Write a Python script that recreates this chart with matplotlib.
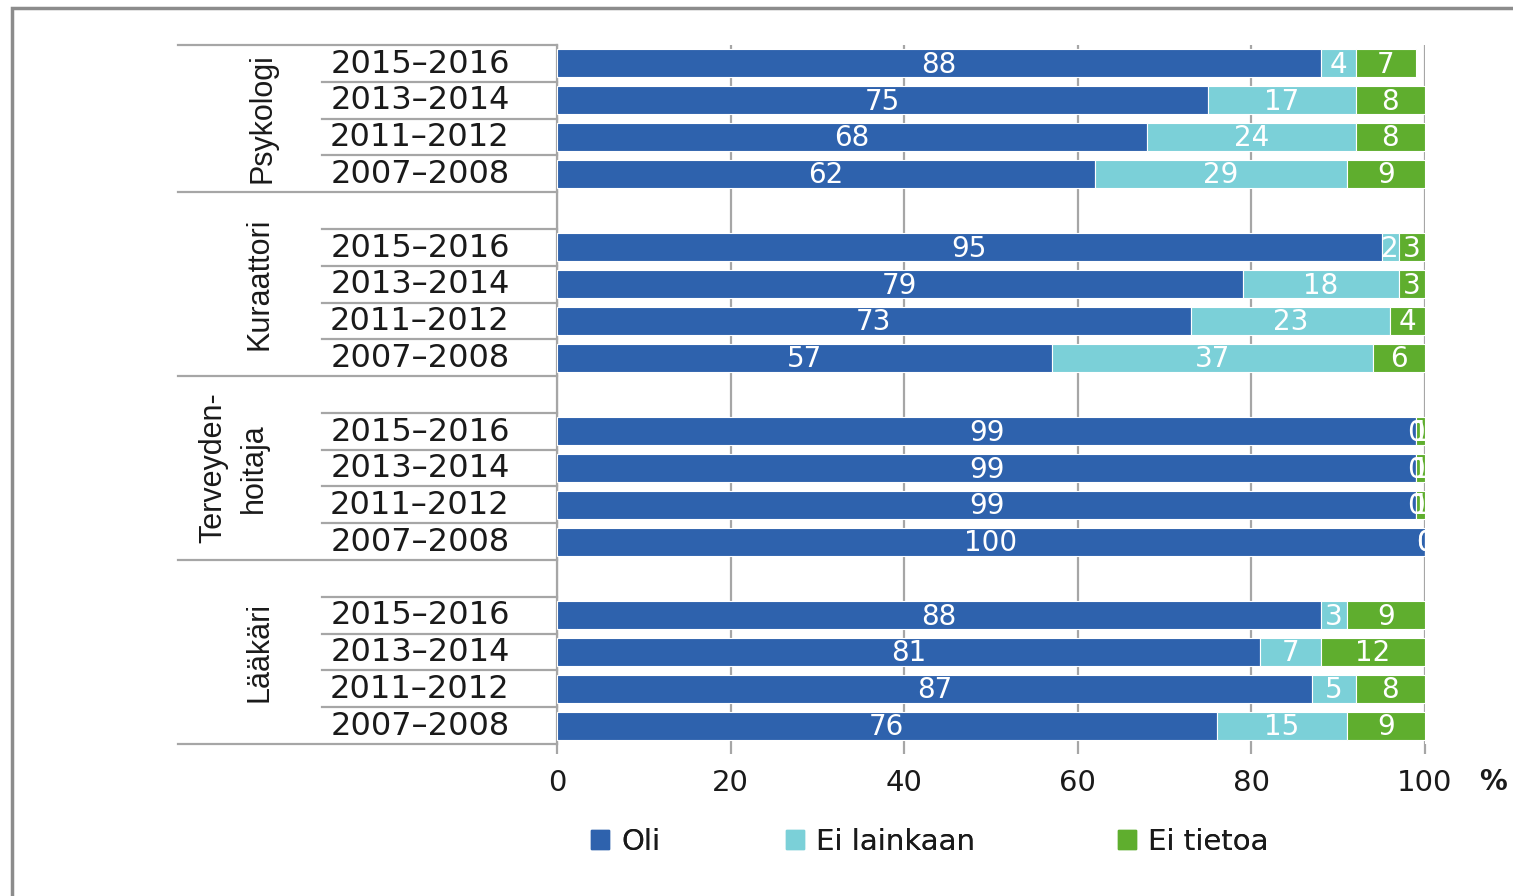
import numpy as np
import matplotlib.pyplot as plt
from matplotlib.patches import Rectangle, Patch

# data
groups = ['Psykologi', 'Kuraattori', 'Terveyden-\nhoitaja', 'Lääkäri']
years = ['2015–2016', '2013–2014', '2011–2012', '2007–2008']
series = ['Oli', 'Ei lainkaan', 'Ei tietoa']

oli = [[88, 75, 68, 62], [95, 79, 73, 57], [99, 99, 99, 100], [88, 81, 87, 76]]
ei_lainkaan = [[4, 17, 24, 29], [2, 18, 23, 37], [0, 0, 0, 0], [3, 7, 5, 15]]
ei_tietoa = [[7, 8, 8, 9], [3, 3, 4, 6], [1, 1, 1, 0], [9, 12, 8, 9]]

colors = ['#2E62AD', '#7BD0D8', '#5FAE2E']
grid_c = '#A6A6A6'
txt_c = '#1a1a1a'

W, H = 1513, 896
fig = plt.figure(figsize=(W / 100, H / 100), dpi=100)
ax_l, ax_r, ax_t, ax_b = 557, 1425, 45, 744
ax = fig.add_axes([ax_l / W, 1 - ax_b / H, (ax_r - ax_l) / W, (ax_b - ax_t) / H])

def axx(px):
    # pixel x -> axes fraction
    return (px - ax_l) / (ax_r - ax_l)

rows = np.array([5 * g + i for g in range(len(groups)) for i in range(len(years))])
vals = [np.array(s).ravel() for s in (oli, ei_lainkaan, ei_tietoa)]

left = np.zeros(len(rows))
for v, c, name in zip(vals, colors, series):
    ax.barh(rows, v, left=left, height=0.76, color=c, edgecolor='white',
            linewidth=0.8, label=name, zorder=3)
    for r, x0, w in zip(rows, left, v):
        ax.text(x0 + w / 2, r + 0.04, str(w), ha='center', va='center',
                color='white', fontsize=20, zorder=4, clip_on=True)
    left = left + v

ax.set_xlim(0, 100)
ax.set_ylim(18.5, -0.5)
ax.set_xticks(np.arange(0, 101, 20))
ax.set_yticks([])
ax.xaxis.grid(True, color=grid_c, lw=1.6, zorder=0)
ax.tick_params(axis='x', length=7, width=1.6, color=grid_c, labelsize=21,
               pad=11, labelcolor=txt_c)
for s in ['top', 'right', 'bottom']:
    ax.spines[s].set_visible(False)
ax.spines['left'].set_color(grid_c)
ax.spines['left'].set_linewidth(1.6)

ax.text(axx(1493), 1 - (782 - ax_t) / (ax_b - ax_t), '%', transform=ax.transAxes,
        ha='center', va='center', fontsize=20, fontweight='bold', color=txt_c)

# category axis: year labels, group labels and separator lines
trans = ax.get_yaxis_transform()
for r, yr in zip(rows, years * len(groups)):
    ax.text(axx(420), r + 0.02, yr, transform=trans, ha='center', va='center',
            fontsize=23, color=txt_c, clip_on=False)

seps = [-0.5, 3.5, 8.5, 13.5, 18.5]
for y in seps:
    ax.plot([axx(178), 0], [y, y], transform=trans, color=grid_c, lw=1.6,
            clip_on=False)
for g in range(len(groups)):
    for i in range(len(years)):
        y = 5 * g + i - 0.5
        if y in seps:
            continue
        ax.plot([axx(322), 0], [y, y], transform=trans, color=grid_c, lw=1.6,
                clip_on=False)

group_x = [262, 260, 234, 260]
for g, name in enumerate(groups):
    yc = (seps[g] + seps[g + 1]) / 2
    ax.text(axx(group_x[g]), yc, name, transform=trans, rotation=90,
            ha='center', va='center', multialignment='center',
            fontsize=22, color=txt_c, linespacing=1.45,
            family='Liberation Sans', clip_on=False)

# legend, one entry per series placed like the reference
leg_x = [591, 786, 1118]
for x, c, name in zip(leg_x, colors, series):
    leg = fig.legend(handles=[Patch(color=c, label=name)], loc='center left',
                     bbox_to_anchor=(x / W, 1 - 842 / H), frameon=False,
                     fontsize=21, handlelength=0.62, handleheight=0.62,
                     handletextpad=0.42, borderpad=0, borderaxespad=0,
                     labelcolor=txt_c)
    fig.add_artist(leg)

# outer frame of the picture
fig.add_artist(Rectangle((12 / W, -0.1), 1.2, 1.1 - 8 / H, transform=fig.transFigure,
                         fill=False, ec='#8C8C8C', lw=2.5))

fig.savefig('out.png', dpi=100)
